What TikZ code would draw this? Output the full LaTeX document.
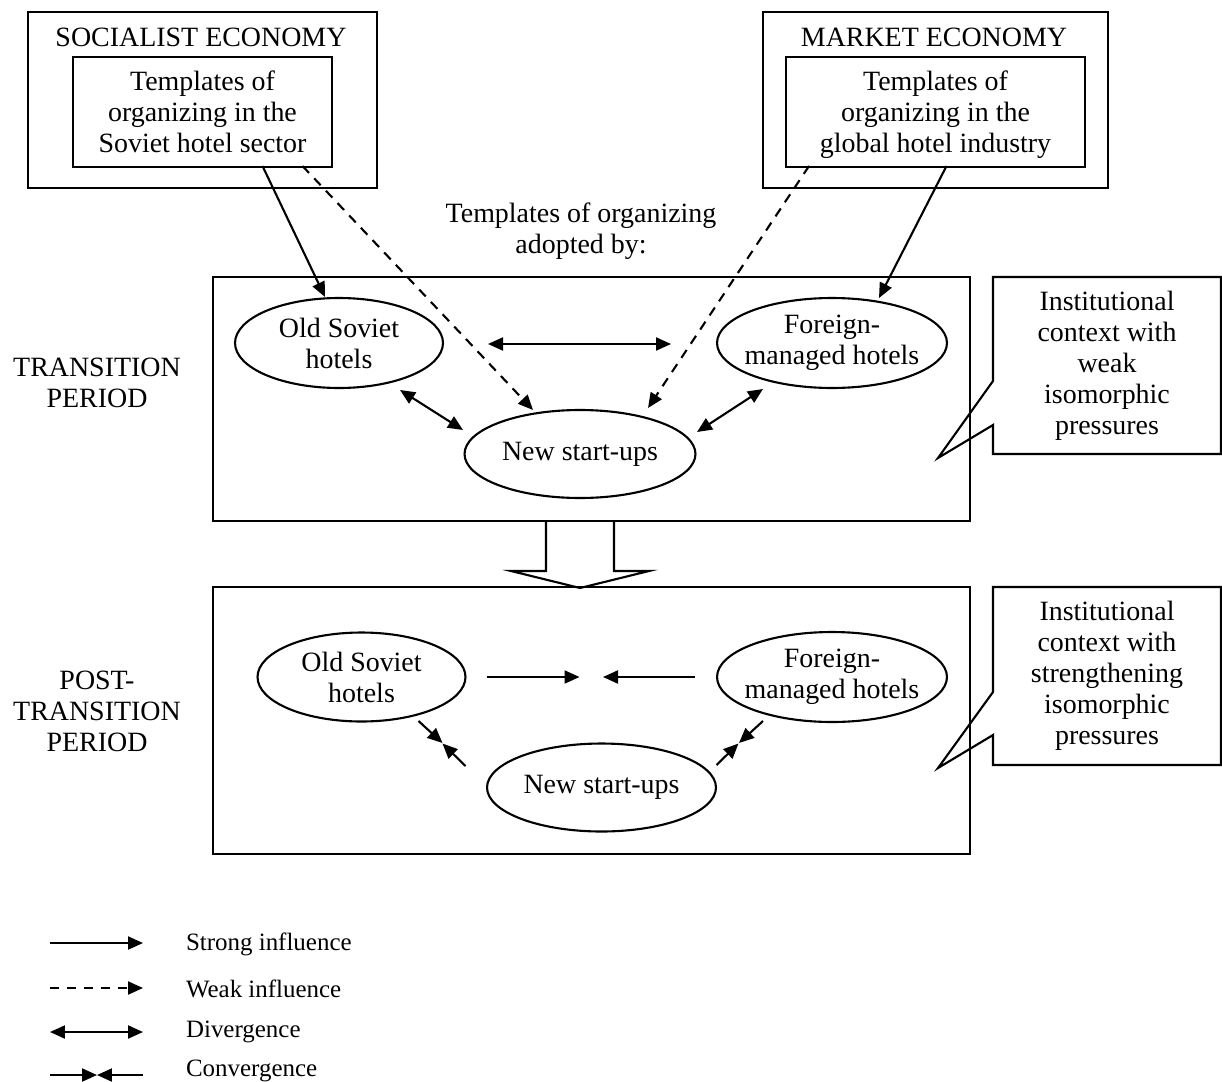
\documentclass[tikz,border=0pt]{standalone}
\usepackage{fontspec}
\setmainfont{Liberation Serif}
\usetikzlibrary{arrows.meta,shapes.geometric}

\tikzset{
  box/.style={draw, rectangle, inner sep=0pt, align=center},
  hotel/.style={draw, ellipse, inner xsep=-0.25cm, inner ysep=0pt, align=center},
  strongline/.style={-{Triangle[length=0.3cm,width=0.26cm]}},
  weakline/.style={strongline, dash pattern=on 0.19cm off 0.15cm},
  divline/.style={{Triangle[length=0.3cm,width=0.26cm]}-{Triangle[length=0.3cm,width=0.26cm]}},
  legtext/.style={anchor=west, inner sep=0pt, font=\fontsize{14.2pt}{17pt}\selectfont}
}

\begin{document}
\begin{tikzpicture}[x=0.02cm,y=-0.02cm,line width=1.2pt,font=\fontsize{15.9pt}{17.6pt}\selectfont]
\useasboundingbox (0,0) rectangle (1222,1081);
% the two economies
\node[box,minimum width=6.98cm,minimum height=3.52cm] (socout) at (202.5,100) {};
\node (soctitle) at (201,37) {SOCIALIST ECONOMY};
\node[box,minimum width=5.18cm,minimum height=2.2cm,text depth=0pt] (socin) at (202.5,112) {Templates of\\organizing in the\\Soviet hotel sector};
\node[box,minimum width=6.9cm,minimum height=3.52cm] (mktout) at (935.5,100) {};
\node (mkttitle) at (934,37) {MARKET ECONOMY};
\node[box,minimum width=5.98cm,minimum height=2.2cm,text depth=0pt] (mktin) at (935.5,112) {Templates of\\organizing in the\\global hotel industry};
\node[align=center] (adopted) at (581,231) {Templates of organizing\\adopted by:};

% the two periods
\node[box,minimum width=15.14cm,minimum height=4.88cm] (trbox) at (591.5,399) {};
\node[box,minimum width=15.14cm,minimum height=5.34cm] (ptbox) at (591.5,720.5) {};
\node[align=center] (trlab) at (97,383) {TRANSITION\\PERIOD};
\node[align=center] (ptlab) at (97,711) {POST-\\TRANSITION\\PERIOD};

\node[hotel,minimum width=4.16cm,minimum height=1.8cm] (oldT) at (339,343) {Old Soviet\\hotels};
\node[hotel,minimum width=4.6cm,minimum height=1.8cm] (forT) at (832,343) {Foreign-\\managed hotels};
\node[hotel,minimum width=4.62cm,minimum height=1.76cm] (newT) at (580,454) {New start-ups};
\node[hotel,minimum width=4.16cm,minimum height=1.78cm] (oldP) at (361.5,677) {Old Soviet\\hotels};
\node[hotel,minimum width=4.6cm,minimum height=1.8cm] (forP) at (832,677) {Foreign-\\managed hotels};
\node[hotel,minimum width=4.58cm,minimum height=1.76cm] (newP) at (601.5,787.5) {New start-ups};

% callouts
\draw (993,277) -- (1221,277) -- (1221,454) -- (993,454) -- (993,425) -- (938,458) -- (993,381) -- cycle;
\node[align=center] (weakctx) at (1107,366) {Institutional\\context with\\weak\\isomorphic\\pressures};
\draw (993,587) -- (1221,587) -- (1221,765) -- (993,765) -- (993,735) -- (938,768) -- (993,692) -- cycle;
\node[align=center] (strongctx) at (1107,676) {Institutional\\context with\\strengthening\\isomorphic\\pressures};

% hollow arrow between periods
\draw (546,521) -- (546,571) -- (511,571) -- (580,588) -- (649,571) -- (614,571) -- (614,521);

% influences
\draw[strongline] ([shift={(60,54)}]socin.center) -- ([shift={(-14,-46)}]oldT.center);
\draw[weakline] ([shift={(100,54)}]socin.center) -- ([shift={(-47,-44)}]newT.center);
\draw[weakline] ([shift={(-126.5,54)}]mktin.center) -- ([shift={(68,-46)}]newT.center);
\draw[strongline] ([shift={(11,54)}]mktin.center) -- ([shift={(47,-45)}]forT.center);

% divergence
\draw[divline] ([shift={(149,1)}]oldT.center) -- ([shift={(-161,1)}]forT.center);
\draw[divline] ([shift={(61,47)}]oldT.center) -- ([shift={(-117,-24)}]newT.center);
\draw[divline] ([shift={(117,-22)}]newT.center) -- ([shift={(-69,46)}]forT.center);

% convergence
\draw[strongline] ([shift={(125,0)}]oldP.center) -- ([shift={(218,0)}]oldP.center);
\draw[strongline] ([shift={(-137.5,0)}]forP.center) -- ([shift={(-229,0)}]forP.center);
\draw[strongline] ([shift={(57,44)}]oldP.center) -- ([shift={(81,66)}]oldP.center);
\draw[strongline] ([shift={(-136,-21.5)}]newP.center) -- ([shift={(-159,-44)}]newP.center);
\draw[strongline] ([shift={(-69,44)}]forP.center) -- ([shift={(-93,66)}]forP.center);
\draw[strongline] ([shift={(115,-22.5)}]newP.center) -- ([shift={(137,-44)}]newP.center);

% legend
\node[legtext] (lgstrong) at (185,944) {Strong influence};
\node[legtext] (lgweak) at (185,989) {Weak influence};
\node[legtext] (lgdiv) at (185,1032) {Divergence};
\node[legtext] (lgconv) at (185,1071) {Convergence};
\draw[strongline] ([shift={(-135,-1)}]lgstrong.west) -- ([shift={(-42,-1)}]lgstrong.west);
\draw[weakline] ([shift={(-135,-1)}]lgweak.west) -- ([shift={(-42,-1)}]lgweak.west);
\draw[divline] ([shift={(-135,0)}]lgdiv.west) -- ([shift={(-42,0)}]lgdiv.west);
\draw[strongline] ([shift={(-135,4)}]lgconv.west) -- ([shift={(-88,4)}]lgconv.west);
\draw[strongline] ([shift={(-42,4)}]lgconv.west) -- ([shift={(-88,4)}]lgconv.west);
\end{tikzpicture}
\end{document}
